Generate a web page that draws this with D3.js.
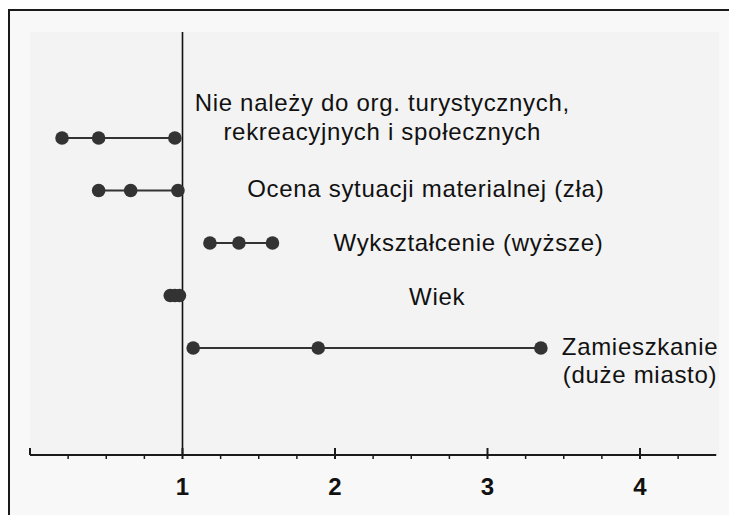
<!DOCTYPE html>
<html>
<head>
<meta charset="utf-8">
<script src="https://cdn.jsdelivr.net/npm/d3@7"></script>
<style>
  body { margin: 0; background: #fff; }
  svg { display: block; font-family: "Liberation Sans", Arial, sans-serif; }
</style>
</head>
<body>
<script>
/* odds ratio chart - three points per factor */

var factors = ["Nie należy", "Ocena", "Wykształcenie", "Wiek", "Zamieszkanie"];
var labelLines = [
    ["Nie należy do org. turystycznych,", "rekreacyjnych i społecznych"],
    ["Ocena sytuacji materialnej (zła)"],
    ["Wykształcenie (wyższe)"],
    ["Wiek"],
    ["Zamieszkanie", "(duże miasto)"]
];
var lowValues  = [0.21, 0.45, 1.18, 0.92, 1.07];
var midValues  = [0.45, 0.66, 1.37, 0.95, 1.89];
var highValues = [0.95, 0.97, 1.59, 0.98, 3.35];
var tickValues = [1, 2, 3, 4];

// label placement (layout only, in axis units / px offsets)
var labelCenter = [2.31, 2.595, 2.875, 2.67, 4.0];
var labelDy = [[-27, 2], [6], [8], [9], [7, 35]];

var width = 729, height = 515;

var svg = d3.select("body").append("svg")
    .attr("width", width)
    .attr("height", height);

// outer frame
svg.append("rect")
    .attr("x", 9).attr("y", 10)
    .attr("width", 740).attr("height", 520)
    .attr("fill", "#f8f8f8")
    .attr("stroke", "#1a1a1a")
    .attr("stroke-width", 2);

var x = d3.scaleLinear().domain([0, 4.5]).range([30, 716.25]);
var y = d3.scalePoint().domain(factors).range([138, 348]);

// plot area
svg.append("rect")
    .attr("x", 30).attr("y", 32)
    .attr("width", 689).attr("height", 455 - 32)
    .attr("fill", "#f3f3f3");

// reference line at 1
svg.append("line")
    .attr("x1", x(1)).attr("x2", x(1))
    .attr("y1", 32).attr("y2", 455)
    .attr("stroke", "#111")
    .attr("stroke-width", 1.6);

// axis
var axisY = 455;
svg.append("line")
    .attr("x1", x(0)).attr("x2", x(4.5))
    .attr("y1", axisY).attr("y2", axisY)
    .attr("stroke", "#1a1a1a")
    .attr("stroke-width", 2);

var minor = d3.range(0.25, 4.5, 0.25).filter(function(v){ return v % 1 !== 0; });
svg.selectAll(".minor")
    .data(minor)
    .enter()
    .append("line")
    .attr("class", "minor")
    .attr("x1", function(d){ return x(d); })
    .attr("x2", function(d){ return x(d); })
    .attr("y1", axisY).attr("y2", axisY + 4)
    .attr("stroke", "#1a1a1a")
    .attr("stroke-width", 1.5);

svg.selectAll(".major")
    .data([0].concat(tickValues))
    .enter()
    .append("line")
    .attr("class", "major")
    .attr("x1", function(d){ return x(d); })
    .attr("x2", function(d){ return x(d); })
    .attr("y1", axisY - 7)
    .attr("y2", function(d){ return d === 0 ? axisY : axisY + 4; })
    .attr("stroke", "#1a1a1a")
    .attr("stroke-width", 2);

svg.selectAll(".tlabel")
    .data(tickValues)
    .enter()
    .append("text")
    .attr("class", "tlabel")
    .attr("x", function(d){ return x(d); })
    .attr("y", 495)
    .attr("text-anchor", "middle")
    .attr("font-size", 24)
    .attr("font-weight", "bold")
    .attr("fill", "#111")
    .text(function(d){ return d; });

// rows
var rows = factors.map(function(f, i){
    return { name: f, vals: [lowValues[i], midValues[i], highValues[i]], i: i };
});

var g = svg.selectAll(".row")
    .data(rows)
    .enter()
    .append("g")
    .attr("class", "row");

g.append("line")
    .attr("x1", function(d){ return x(d.vals[0]); })
    .attr("x2", function(d){ return x(d.vals[2]); })
    .attr("y1", function(d){ return y(d.name); })
    .attr("y2", function(d){ return y(d.name); })
    .attr("stroke", "#333")
    .attr("stroke-width", 2);

g.selectAll("circle")
    .data(function(d){ return d.vals.map(function(v){ return { v: v, name: d.name }; }); })
    .enter()
    .append("circle")
    .attr("cx", function(d){ return x(d.v); })
    .attr("cy", function(d){ return y(d.name); })
    .attr("r", 6.8)
    .attr("fill", "#333");

g.each(function(d){
    var t = d3.select(this).append("text")
        .attr("text-anchor", "middle")
        .attr("font-size", 24)
        .attr("letter-spacing", 0.7)
        .attr("fill", "#111");
    labelLines[d.i].forEach(function(line, k){
        t.append("tspan")
            .attr("x", x(labelCenter[d.i]))
            .attr("y", y(d.name) + labelDy[d.i][k])
            .text(line);
    });
});
</script>
</body>
</html>
